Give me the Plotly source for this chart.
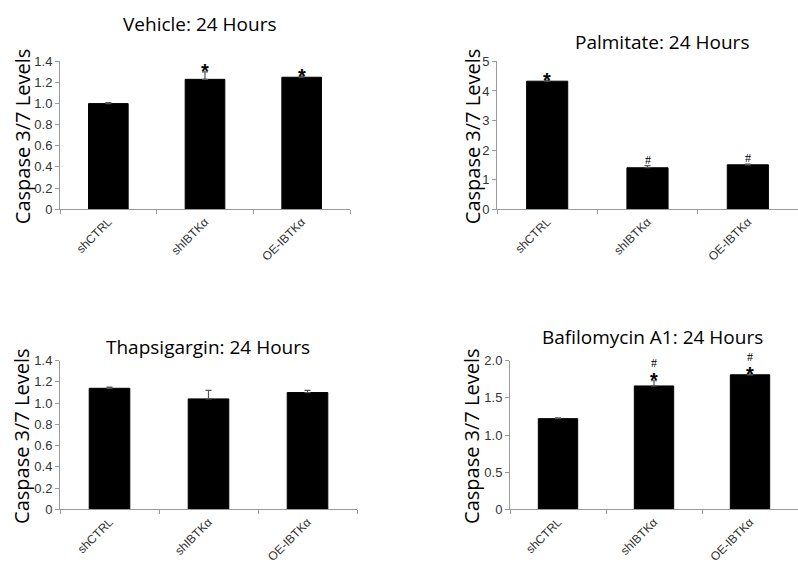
import plotly.graph_objects as go

categories = ["shCTRL", "shIBTKα", "OE-IBTKα"]

vehicle_vals = [1.00, 1.23, 1.25]
vehicle_err = [0.01, 0.07, 0.01]
palmitate_vals = [4.33, 1.40, 1.50]
palmitate_err = [0.03, 0.07, 0.02]
thapsigargin_vals = [1.14, 1.04, 1.10]
thapsigargin_err = [0.01, 0.08, 0.02]
bafilomycin_vals = [1.22, 1.66, 1.81]
bafilomycin_err = [0.01, 0.07, 0.01]

titles = ["Vehicle: 24 Hours", "Palmitate: 24 Hours", "Thapsigargin: 24 Hours", "Bafilomycin A1: 24 Hours"]

vehicle_ticks = [0, 0.2, 0.4, 0.6, 0.8, 1.0, 1.2, 1.4]
vehicle_ticktext = ["0", "0.2", "0.4", "0.6", "0.8", "1.0", "1.2", "1.4"]
palmitate_ticks = [0, 1, 2, 3, 4, 5]
palmitate_ticktext = ["0", "1", "2", "3", "4", "5"]
baf_ticks = [0, 0.5, 1.0, 1.5, 2.0]
baf_ticktext = ["0", "0.5", "1.0", "1.5", "2.0"]

# significance marks: (panel index, category index, symbols from bottom to top)
marks = [
    (0, 1, ["*"]), (0, 2, ["*"]),
    (1, 0, ["*"]), (1, 1, ["#"]), (1, 2, ["#"]),
    (3, 1, ["*", "#"]), (3, 2, ["*", "#"]),
]

W, H = 798, 564
panels = [
    dict(vals=vehicle_vals, err=vehicle_err, ymax=1.4, tv=vehicle_ticks, tt=vehicle_ticktext,
         x0=60, x1=350, ytop=56, ybot=208, tx=200, ty=17, ylx=22),
    dict(vals=palmitate_vals, err=palmitate_err, ymax=5, tv=palmitate_ticks, tt=palmitate_ticktext,
         x0=497, x1=798, ytop=56, ybot=208, tx=662, ty=36, ylx=472),
    dict(vals=thapsigargin_vals, err=thapsigargin_err, ymax=1.4, tv=vehicle_ticks, tt=vehicle_ticktext,
         x0=60, x1=357, ytop=364, ybot=517, tx=208, ty=350, ylx=22),
    dict(vals=bafilomycin_vals, err=bafilomycin_err, ymax=2.0, tv=baf_ticks, tt=baf_ticktext,
         x0=510, x1=798, ytop=364, ybot=517, tx=652, ty=339.5, ylx=472),
]

fig = go.Figure()
annotations = []
layout = {}
for i, p in enumerate(panels):
    n = "" if i == 0 else str(i + 1)
    fig.add_trace(go.Bar(
        x=categories, y=p["vals"], xaxis="x" + n, yaxis="y" + n,
        marker=dict(color="black", line=dict(color="black", width=1)),
        width=0.41,
        error_y=dict(type="data", array=p["err"], symmetric=False, arrayminus=[0, 0, 0],
                     color="#555555", thickness=1.2, width=3),
        showlegend=False, hoverinfo="skip",
    ))
    layout["xaxis" + n] = dict(
        domain=[p["x0"] / W, min(p["x1"] / W, 1)], anchor="y" + n,
        showline=True, linecolor="#999999", linewidth=1,
        ticks="outside", tickson="boundaries", ticklen=4, tickcolor="#999999",
        tickangle=-45, tickfont=dict(family="Arial, Liberation Sans", size=12, color="#333333"),
        showgrid=False, zeroline=False, range=[-0.5, 2.5],
    )
    layout["yaxis" + n] = dict(
        domain=[1 - p["ybot"] / H, 1 - p["ytop"] / H], anchor="x" + n,
        range=[0, p["ymax"]], tickvals=p["tv"], ticktext=p["tt"],
        showline=True, linecolor="#999999", linewidth=1,
        ticks="outside", ticklen=4, tickcolor="#999999",
        tickfont=dict(family="Arial, Liberation Sans", size=13, color="#333333"),
        showgrid=False, zeroline=False,
    )
    annotations.append(dict(
        text=titles[i], x=p["tx"] / W, y=1 - p["ty"] / H, xref="paper", yref="paper",
        xanchor="center", yanchor="middle", showarrow=False,
        font=dict(family="Open Sans", size=19, color="black"),
    ))
    annotations.append(dict(
        text="Caspase 3/7 Levels", x=p["ylx"] / W, y=1 - ((p["ytop"] + p["ybot"]) / 2 + 2) / H,
        xref="paper", yref="paper", xanchor="center", yanchor="middle", textangle=-90,
        showarrow=False, font=dict(family="Open Sans", size=20, color="black"),
    ))

for (pi, ci, syms) in marks:
    p = panels[pi]
    n = "" if pi == 0 else str(pi + 1)
    top = p["vals"][ci] + p["err"][ci]
    for k, s in enumerate(syms):
        if s == "*":
            annotations.append(dict(text="<b>*</b>", x=categories[ci], y=top, xref="x" + n, yref="y" + n,
                                    xanchor="center", yanchor="middle", yshift=0.5, showarrow=False,
                                    font=dict(family="Arial", size=20, color="black")))
        else:
            annotations.append(dict(text="#", x=categories[ci], y=top, xref="x" + n, yref="y" + n,
                                    xanchor="center", yanchor="middle", yshift=17.5 if k > 0 else 6,
                                    showarrow=False,
                                    font=dict(family="Liberation Serif", size=12, color="black")))

fig.update_layout(
    width=W, height=H, margin=dict(l=0, r=0, t=0, b=0),
    plot_bgcolor="white", paper_bgcolor="white",
    annotations=annotations, bargap=0.5, **layout,
)
fig.write_html("out.html", config={"displayModeBar": False},
               post_script="document.body.style.margin='0px';")
